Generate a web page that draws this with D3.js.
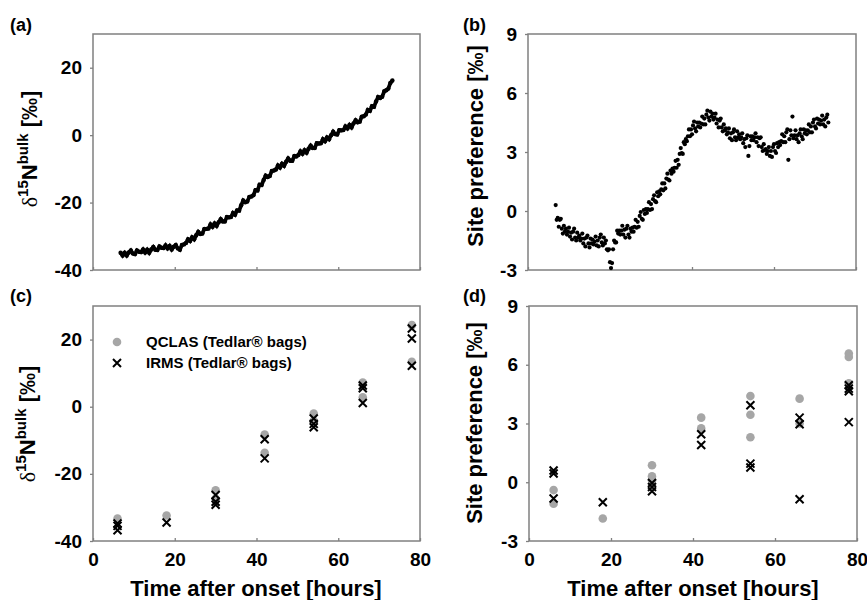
<!DOCTYPE html>
<html>
<head>
<meta charset="utf-8">
<script src="https://cdn.jsdelivr.net/npm/d3@7"></script>
<style>
body { margin: 0; background: #fff; }
text { font-family: "Liberation Sans", Arial, sans-serif; font-weight: bold; fill: #000; }
</style>
</head>
<body>
<svg id="chart" width="867" height="600"></svg>
<script>
// axis ticks
const x_ticks = [0, 20, 40, 60, 80];
const bulk_ticks = [-40, -20, 0, 20];
const sp_ticks = [-3, 0, 3, 6, 9];

// continuous QCLAS record, logged at a fixed interval (hours)
const bulk_t0 = 6.75, bulk_dt = 0.5;
const bulk_values = [
	-34.9,-35.7,-34.9,-35.7,-34.8,-34.2,-35.1,-35.3,-34.2,-34.6,
	-34.7,-33.9,-34.8,-34.0,-34.9,-33.9,-33.2,-34.0,-34.1,-33.0,
	-33.4,-33.5,-32.7,-33.6,-32.9,-33.9,-33.1,-32.6,-33.6,-34.0,
	-32.6,-32.4,-32.0,-30.9,-31.4,-30.3,-30.9,-29.7,-28.7,-29.3,
	-29.2,-27.8,-27.8,-27.7,-26.5,-27.2,-26.2,-26.9,-25.8,-24.9,
	-25.6,-25.6,-24.3,-24.4,-24.3,-23.1,-23.6,-22.3,-22.4,-20.8,
	-19.4,-19.9,-19.7,-18.3,-18.2,-17.8,-16.3,-16.4,-14.7,-14.8,
	-13.3,-12.0,-12.4,-12.1,-10.6,-10.5,-10.2,-9.0,-9.6,-8.5,
	-9.1,-7.9,-6.9,-7.6,-7.6,-6.2,-6.3,-5.9,-4.8,-5.5,
	-4.5,-5.2,-4.0,-3.1,-3.8,-3.8,-2.4,-2.5,-2.4,-1.2,
	-1.8,-0.7,-1.2,0.0,1.0,0.3,0.2,1.5,1.4,1.5,
	2.6,2.0,3.0,2.3,3.5,4.4,3.8,4.0,5.5,5.6,
	6.1,7.5,7.2,8.6,8.4,10.0,11.3,11.0,11.4,13.0,
	13.3,13.8,15.5,16.2
];

const sp_t0 = 6.75, sp_dt = 0.25;
const sp_values = [
	0.3,-0.45,-0.35,-0.8,-0.45,-0.4,-0.9,-1.15,-0.75,-1.05,
	-0.9,-1.2,-1.05,-0.85,-1.3,-1.1,-1.45,-1.05,-0.9,-1.35,
	-1.5,-1.1,-1.35,-1.25,-1.5,-1.4,-1.15,-1.65,-1.4,-1.8,
	-1.35,-1.25,-1.65,-1.85,-1.4,-1.65,-1.45,-1.7,-1.55,-1.3,
	-1.75,-1.5,-1.8,-1.35,-1.2,-1.6,-1.75,-1.35,-1.65,-1.5,
	-1.95,-2.0,-1.95,-2.6,-2.9,-2.65,-1.95,-1.5,-1.6,-1.6,
	-1.0,-1.15,-1.0,-1.2,-1.0,-0.75,-1.2,-0.95,-1.35,-0.9,
	-0.75,-1.2,-1.35,-0.9,-1.05,-0.85,-1.05,-0.8,-0.45,-0.85,
	-0.55,-0.8,-0.25,-0.05,-0.4,-0.45,0.05,-0.15,0.1,-0.1,
	0.1,0.45,0.05,0.35,0.1,0.6,0.8,0.5,0.45,0.95,
	0.75,1.0,0.85,1.1,1.4,1.05,1.4,1.15,1.65,1.9,
	1.6,1.55,2.05,1.9,2.15,2.0,2.2,2.55,2.2,2.6,
	2.35,2.9,3.2,2.95,2.9,3.5,3.4,3.65,3.55,3.8,
	4.15,3.8,4.15,3.9,4.35,4.55,4.2,4.05,4.5,4.3,
	4.5,4.25,4.45,4.8,4.4,4.7,4.4,4.9,5.1,4.75,
	4.6,5.05,4.8,4.95,4.65,4.75,4.95,4.45,4.65,4.25,
	4.6,4.7,4.25,4.05,4.4,4.1,4.2,3.9,4.0,4.2,
	3.7,3.95,3.6,4.0,4.15,3.75,3.6,4.05,3.75,3.9,
	3.65,3.75,3.95,3.45,3.65,3.25,3.7,3.85,2.8,3.3,
	3.8,3.6,3.8,3.6,3.75,3.95,3.5,3.75,3.3,3.7,
	3.75,3.25,3.05,3.4,3.1,3.15,2.9,3.05,3.25,2.8,
	3.05,2.75,3.25,3.4,3.05,2.95,3.45,3.25,3.5,3.35,
	3.55,3.9,3.5,3.8,3.5,4.0,4.15,2.6,3.65,4.1,
	3.85,4.8,3.7,3.85,4.1,3.65,3.85,3.5,3.95,4.15,
	3.8,3.65,4.15,3.95,4.1,3.9,4.1,4.4,4.0,4.3,
	4.0,4.5,4.65,4.3,4.2,4.7,4.45,4.65,4.4,4.6,
	4.85,4.4,4.65,4.3,4.75,4.9,4.5
];

// Tedlar bag samples, one list of replicates per sampling hour
const sample_hours = [6, 18, 30, 42, 54, 66, 78];
const qclas_bulk = [[-33.3], [-32.4], [-24.9, -27.4], [-8.3, -13.7], [-2.0, -4.2], [7.2, 2.8], [24.3, 13.4]];
const irms_bulk = [[-34.8, -35.5, -36.8], [-34.5], [-26.3, -28.3, -29.2], [-9.7, -15.4], [-3.5, -5.1, -6.1], [6.3, 5.5, 1.1], [23.3, 20.3, 12.2]];
const qclas_sp = [[-0.4, -1.1], [-1.85], [0.87, 0.3, 0.1], [3.3, 2.75], [4.4, 3.45, 2.3], [4.27, 3.0], [6.57, 6.4, 5.05]];
const irms_sp = [[0.6, 0.45, -0.83], [-1.02], [-0.04, -0.24, -0.46], [2.45, 1.9], [3.93, 0.95, 0.75], [3.3, 2.96, -0.87], [4.95, 4.78, 4.65, 3.07]];

const legend_labels = ["QCLAS (Tedlar® bags)", "IRMS (Tedlar® bags)"];

const svg = d3.select("#chart");
const box_color = "#808080";
const dot_gray = "#a6a6a6";

function flatten(list) {
	const out = [];
	list.forEach(function(vals, i) {
		vals.forEach(function(v) { out.push({t: sample_hours[i], v: v}); });
	});
	return out;
}

function series(t0, dt, values) {
	return values.map(function(v, i) { return {t: t0 + i * dt, v: v}; });
}

function make_panel(box, y_domain, y_ticks, show_x_labels) {
	const x = d3.scaleLinear().domain([0, 80]).range([box.left, box.right]);
	const y = d3.scaleLinear().domain(y_domain).range([box.bottom, box.top]);
	const g = svg.append("g");
	const fmt = function(d) { return String(d); }; // plain hyphen minus

	const ya = g.append("g")
		.attr("transform", "translate(" + box.left + ",0)")
		.call(d3.axisLeft(y).tickValues(y_ticks).tickFormat(fmt).tickSize(3).tickSizeOuter(0).tickPadding(8));
	const xa = g.append("g")
		.attr("transform", "translate(0," + box.bottom + ")")
		.call(d3.axisBottom(x).tickValues(x_ticks).tickFormat(fmt).tickSize(-3).tickSizeOuter(0).tickPadding(12));
	[ya, xa].forEach(function(a) {
		a.attr("font-family", null).attr("font-size", null);
		a.select(".domain").remove();
		a.selectAll(".tick line").attr("stroke", box_color).attr("stroke-width", 1.3);
		a.selectAll(".tick text")
			.attr("fill", "#000")
			.style("font-family", "'Liberation Sans', Arial, sans-serif")
			.style("font-weight", "bold")
			.style("font-size", "19px");
	});
	if (!show_x_labels) xa.selectAll(".tick text").remove();

	g.append("rect")
		.attr("x", box.left).attr("y", box.top)
		.attr("width", box.right - box.left).attr("height", box.bottom - box.top)
		.attr("fill", "none").attr("stroke", box_color).attr("stroke-width", 1.5);

	return {g: g, x: x, y: y};
}

function draw_samples(p, qclas, irms) {
	p.g.append("g").selectAll("circle")
		.data(flatten(qclas)).enter().append("circle")
		.attr("cx", function(d) { return p.x(d.t); })
		.attr("cy", function(d) { return p.y(d.v); })
		.attr("r", 4.3).attr("fill", dot_gray);
	p.g.append("g").selectAll("path")
		.data(flatten(irms)).enter().append("path")
		.attr("transform", function(d) { return "translate(" + p.x(d.t) + "," + p.y(d.v) + ")"; })
		.attr("d", "M-4,-4L4,4M-4,4L4,-4")
		.attr("stroke", "#000").attr("stroke-width", 2).attr("fill", "none");
}

function bulk_title(x, y) {
	const t = svg.append("text")
		.attr("transform", "translate(" + x + "," + y + ") rotate(-90)")
		.attr("text-anchor", "middle")
		.style("font-size", "22px");
	t.append("tspan").text("δ").style("font-family", "'Liberation Serif', serif").style("font-weight", "normal");
	t.append("tspan").text("15").attr("dy", -9).style("font-size", "15px");
	t.append("tspan").text("N").attr("dy", 9);
	t.append("tspan").text("bulk").attr("dy", -9).style("font-size", "15px");
	t.append("tspan").text(" [‰]").attr("dy", 9);
}

function sp_title(x, y) {
	svg.append("text")
		.attr("transform", "translate(" + x + "," + y + ") rotate(-90)")
		.attr("text-anchor", "middle")
		.style("font-size", "22px")
		.text("Site preference [‰]");
}

function panel_label(x, y, s) {
	svg.append("text").attr("x", x).attr("y", y).style("font-size", "18px").text(s);
}

// (a) continuous bulk
const pa = make_panel({left: 93, right: 420, top: 34, bottom: 270}, [-40, 30], bulk_ticks, false);
const bulk_pts = series(bulk_t0, bulk_dt, bulk_values);
pa.g.append("path")
	.datum(bulk_pts)
	.attr("d", d3.line().x(function(d) { return pa.x(d.t); }).y(function(d) { return pa.y(d.v); }))
	.attr("fill", "none").attr("stroke", "#000").attr("stroke-width", 3.8);
pa.g.append("g").selectAll("circle")
	.data(bulk_pts).enter().append("circle")
	.attr("cx", function(d) { return pa.x(d.t); })
	.attr("cy", function(d) { return pa.y(d.v); })
	.attr("r", 2.2).attr("fill", "#000");

// (b) continuous site preference
const pb = make_panel({left: 528, right: 856, top: 34, bottom: 270}, [-3, 9], sp_ticks, false);
pb.g.append("g").selectAll("circle")
	.data(series(sp_t0, sp_dt, sp_values)).enter().append("circle")
	.attr("cx", function(d) { return pb.x(d.t); })
	.attr("cy", function(d) { return pb.y(d.v); })
	.attr("r", 2.1).attr("fill", "#000");

// (c) and (d) bag samples
const pc = make_panel({left: 93, right: 420, top: 306, bottom: 541}, [-40, 30], bulk_ticks, true);
draw_samples(pc, qclas_bulk, irms_bulk);
const pd = make_panel({left: 529, right: 857, top: 306, bottom: 541}, [-3, 9], sp_ticks, true);
draw_samples(pd, qclas_sp, irms_sp);

// legend in (c)
pc.g.append("circle").attr("cx", 117).attr("cy", 342).attr("r", 4.3).attr("fill", dot_gray);
pc.g.append("path").attr("transform", "translate(117,363)")
	.attr("d", "M-4,-4L4,4M-4,4L4,-4").attr("stroke", "#000").attr("stroke-width", 2);
legend_labels.forEach(function(s, i) {
	pc.g.append("text").attr("x", 146).attr("y", 347 + i * 21).style("font-size", "15px").text(s);
});

// titles and labels
bulk_title(37, 149);
bulk_title(35, 424);
sp_title(483, 146);
sp_title(482, 423);
[[256, 596], [693, 596]].forEach(function(p) {
	svg.append("text").attr("x", p[0]).attr("y", p[1]).attr("text-anchor", "middle")
		.style("font-size", "22px").text("Time after onset [hours]");
});
panel_label(10, 31, "(a)");
panel_label(463, 31, "(b)");
panel_label(10, 302, "(c)");
panel_label(463, 302, "(d)");
</script>
</body>
</html>
